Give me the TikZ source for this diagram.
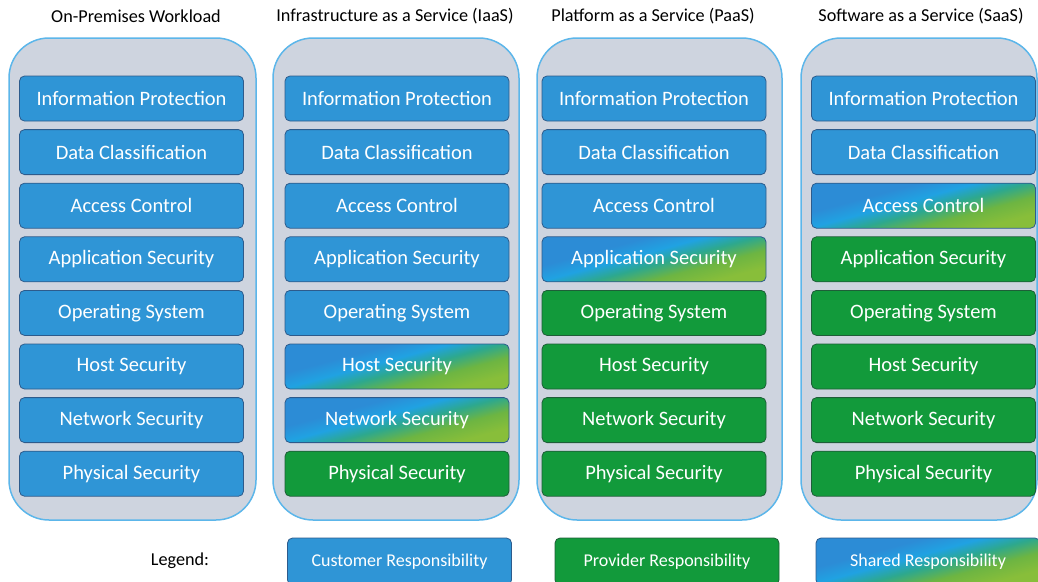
\documentclass[tikz,border=0pt]{standalone}
\usepackage{fontspec}
\setmainfont{Carlito}
\definecolor{cont}{HTML}{CED4DF}
\definecolor{contb}{HTML}{5CB6EA}
\definecolor{cblue}{HTML}{2F95D6}
\definecolor{cblueb}{HTML}{2D5B8C}
\definecolor{cgreen}{HTML}{129A3B}
\definecolor{cgreenb}{HTML}{1E5E38}
\definecolor{sA}{HTML}{2C8CD6}
\definecolor{sB}{HTML}{20A2E2}
\definecolor{sC}{HTML}{2DA88E}
\definecolor{sD}{HTML}{6DB542}
\definecolor{sE}{HTML}{88BE3A}
\pgfdeclarehorizontalshading{sharedshade}{100bp}{color(0bp)=(sA); color(36bp)=(sA); color(45bp)=(sB); color(53bp)=(sC); color(62bp)=(sD); color(72bp)=(sE); color(100bp)=(sE)}
\tikzset{
  container/.style={rounded corners=40pt, fill=cont, draw=contb, line width=1.5pt},
  layer/.style={rounded corners=5pt, minimum width=224pt, minimum height=45pt, text=white,
    font=\fontsize{20.5}{24}\selectfont, line width=0.8pt, inner sep=0pt},
  cust/.style={layer, fill=cblue, draw=cblueb},
  prov/.style={layer, fill=cgreen, draw=cgreenb},
  shr/.style={layer, draw=cblueb, shading=sharedshade, shading angle=-75},
  header/.style={font=\fontsize{18.2}{21}\selectfont, text=black},
  legbox/.style={minimum width=224pt, minimum height=47pt, font=\fontsize{18}{21}\selectfont},
}
\begin{document}
\begin{tikzpicture}[x=1pt,y=-1pt]
\useasboundingbox (0,0) rectangle (1038,581);
% containers
\draw[container] (9,38) rectangle (256,520);
\draw[container] (273,38) rectangle (519,520);
\draw[container] (537,38) rectangle (782,520);
\draw[container] (801,38) rectangle (1037,520);
% headers
\node[header] (h1) at (136,16) {On-Premises Workload};
\node[header] (h2) at (395,16) {Infrastructure as a Service (IaaS)};
\node[header] (h3) at (653,16) {Platform as a Service (PaaS)};
\node[header] (h4) at (921,16) {Software as a Service (SaaS)};
% column 1
\node[cust] (a1) at (131.5,98.5) {Information Protection};
\node[cust] (a2) at (131.5,152.1) {Data Classification};
\node[cust] (a3) at (131.5,205.7) {Access Control};
\node[cust] (a4) at (131.5,259.3) {Application Security};
\node[cust] (a5) at (131.5,312.9) {Operating System};
\node[cust] (a6) at (131.5,366.5) {Host Security};
\node[cust] (a7) at (131.5,420.1) {Network Security};
\node[cust] (a8) at (131.5,473.7) {Physical Security};
% column 2
\node[cust] (b1) at (397,98.5) {Information Protection};
\node[cust] (b2) at (397,152.1) {Data Classification};
\node[cust] (b3) at (397,205.7) {Access Control};
\node[cust] (b4) at (397,259.3) {Application Security};
\node[cust] (b5) at (397,312.9) {Operating System};
\node[shr] (b6) at (397,366.5) {Host Security};
\node[shr] (b7) at (397,420.1) {Network Security};
\node[prov] (b8) at (397,473.7) {Physical Security};
% column 3
\node[cust] (c1) at (654,98.5) {Information Protection};
\node[cust] (c2) at (654,152.1) {Data Classification};
\node[cust] (c3) at (654,205.7) {Access Control};
\node[shr] (c4) at (654,259.3) {Application Security};
\node[prov] (c5) at (654,312.9) {Operating System};
\node[prov] (c6) at (654,366.5) {Host Security};
\node[prov] (c7) at (654,420.1) {Network Security};
\node[prov] (c8) at (654,473.7) {Physical Security};
% column 4
\node[cust] (d1) at (923.5,98.5) {Information Protection};
\node[cust] (d2) at (923.5,152.1) {Data Classification};
\node[shr] (d3) at (923.5,205.7) {Access Control};
\node[prov] (d4) at (923.5,259.3) {Application Security};
\node[prov] (d5) at (923.5,312.9) {Operating System};
\node[prov] (d6) at (923.5,366.5) {Host Security};
\node[prov] (d7) at (923.5,420.1) {Network Security};
\node[prov] (d8) at (923.5,473.7) {Physical Security};
% legend
\node[header] (leg) at (180,561) {Legend:};
\node[cust, legbox] (l1) at (399.5,561.5) {Customer Responsibility};
\node[prov, legbox] (l2) at (667,561.5) {Provider Responsibility};
\node[shr, legbox] (l3) at (928,561.5) {Shared Responsibility};
\end{tikzpicture}
\end{document}
